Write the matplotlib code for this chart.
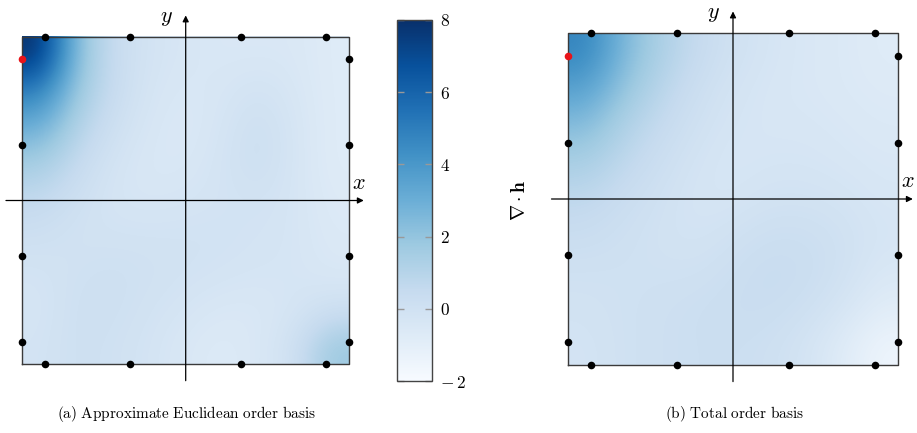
import numpy as np
import matplotlib
matplotlib.use("Agg")
import matplotlib.pyplot as plt
from matplotlib.colors import Normalize

plt.rcParams['mathtext.fontset'] = 'cm'
plt.rcParams['font.family'] = ['DejaVu Serif']

# ---------------- data ----------------
grid_coords = [-1.0, -0.75, -0.5, -0.25, 0.0, 0.25, 0.5, 0.75, 1.0]   # 9x9 sample grid (rows: y=+1 -> -1)

field_euclid = [
    [8.0, 2.2, 0.4, -0.2, -0.4, -0.5, -0.5, -0.5, -0.8],
    [5.0, 1.8, 0.4, -0.3, -0.5, -0.4, -0.1, -0.4, -0.8],
    [3.0, 1.1, 0.1, -0.4, -0.6, -0.3, 0.2, -0.3, -0.8],
    [1.5, 0.5, -0.2, -0.5, -0.5, -0.2, 0.2, -0.3, -0.8],
    [0.6, 0.1, -0.3, -0.4, -0.3, -0.2, -0.1, -0.3, -0.7],
    [0.1, -0.1, -0.1, -0.1, -0.1, -0.1, -0.2, -0.3, -0.6],
    [-0.2, 0.0, 0.1, 0.0, -0.1, -0.2, -0.3, -0.3, -0.5],
    [-0.3, 0.1, 0.1, -0.1, -0.3, -0.5, -0.5, -0.3, 0.1],
    [-0.2, 0.1, 0.0, -0.2, -0.5, -0.7, -0.5, 0.0, 1.8],
]

field_total = [
    [4.8, 2.6, 1.3, 0.5, 0.0, -0.3, -0.5, -0.6, -0.8],
    [3.6, 2.0, 0.9, 0.2, -0.2, -0.4, -0.5, -0.6, -0.7],
    [2.4, 1.2, 0.5, 0.0, -0.3, -0.4, -0.4, -0.5, -0.6],
    [1.4, 0.7, 0.2, -0.2, -0.4, -0.3, -0.3, -0.4, -0.5],
    [0.7, 0.3, 0.0, -0.3, -0.3, -0.1, -0.1, -0.2, -0.4],
    [0.3, 0.1, -0.1, -0.2, 0.0, 0.2, 0.2, 0.0, -0.3],
    [0.0, 0.0, 0.0, 0.0, 0.2, 0.4, 0.3, 0.0, -0.5],
    [-0.1, 0.0, 0.1, 0.2, 0.3, 0.3, 0.1, -0.3, -0.9],
    [-0.2, 0.0, 0.1, 0.2, 0.2, 0.1, -0.2, -0.8, -1.5],
]

# boundary nodes (4-point Gauss positions on each edge)
edge_nodes = [-0.8611363, -0.3399810, 0.3399810, 0.8611363]
highlight_node = (-1.0, 0.8611363)

cbar_ticks = [-2, 0, 2, 4, 6, 8]
cbar_ticklabels = [r'$-\,2$', r'$0$', r'$2$', r'$4$', r'$6$', r'$8$']
cbar_label = r'$\nabla\cdot\mathbf{h}$'
captions = [r'$\mathrm{(a)\ Approximate\ Euclidean\ order\ basis}$',
            r'$\mathrm{(b)\ Total\ order\ basis}$']
vmin, vmax = -2, 8

# ---------------- figure ----------------
W, H = 917, 433
fig = plt.figure(figsize=(W / 100, H / 100), dpi=100)

norm = Normalize(vmin=vmin, vmax=vmax)
cmap = plt.get_cmap('Blues')


def make_panel(cx, cy, sx, sy, field, caption, caption_x):
    xl, xr = -1.13, 1.13
    yb, yt = -1.13, 1.16
    left_px = cx + xl * sx
    right_px = cx + xr * sx
    top_px = cy - yt * sy
    bot_px = cy - yb * sy
    ax = fig.add_axes([left_px / W, 1 - bot_px / H,
                       (right_px - left_px) / W, (bot_px - top_px) / H])
    ax.set_xlim(xl, xr)
    ax.set_ylim(yb, yt)
    ax.axis('off')
    im = ax.imshow(np.array(field), extent=[-1, 1, -1, 1], origin='upper',
                   cmap=cmap, norm=norm, interpolation='bicubic', aspect='auto', zorder=1)
    ax.plot([-1, 1, 1, -1, -1], [-1, -1, 1, 1, -1], color='#3a3a3a', lw=1.0, zorder=2)
    ax.annotate('', xy=(1.09, 0), xytext=(-1.1, 0),
                arrowprops=dict(arrowstyle='-|>', color='black', lw=0.9,
                                mutation_scale=9, shrinkA=0, shrinkB=0), zorder=3)
    ax.annotate('', xy=(0, 1.13), xytext=(0, -1.1),
                arrowprops=dict(arrowstyle='-|>', color='black', lw=0.9,
                                mutation_scale=9, shrinkA=0, shrinkB=0), zorder=3)
    ax.text(1.06, 0.04, r'$x$', fontsize=16, ha='center', va='bottom', zorder=4)
    ax.text(-0.12, 1.12, r'$y$', fontsize=16, ha='center', va='center', zorder=4)
    xs, ys = [], []
    for t in edge_nodes:
        xs += [t, t, 1]
        ys += [1, -1, t]
    for t in edge_nodes:
        if not np.isclose(t, highlight_node[1]):
            xs.append(-1)
            ys.append(t)
    ax.scatter(xs, ys, s=30, color='black', zorder=5, clip_on=False, linewidths=0)
    ax.scatter([highlight_node[0]], [highlight_node[1]], s=30, color='#e8141a',
               zorder=6, clip_on=False, linewidths=0)
    fig.text(caption_x / W, 1 - 414 / H, caption, fontsize=11, ha='center', va='center')
    return im


im = make_panel(185.7, 200.5, 163.4, 163.8, field_euclid, captions[0], 186)
make_panel(733, 199, 165, 166, field_total, captions[1], 734)

# colorbar
cax = fig.add_axes([397 / W, 1 - 381 / H, 35 / W, 361 / H])
cb = fig.colorbar(im, cax=cax, ticks=cbar_ticks)
cb.ax.set_yticklabels(cbar_ticklabels)
cb.outline.set_edgecolor('#444444')
cb.outline.set_linewidth(1.0)
cb.ax.tick_params(direction='in', left=True, right=True, length=5, width=1,
                  color='#999999', labelsize=12.5, pad=6)
for lbl in cb.ax.get_yticklabels():
    lbl.set_horizontalalignment('left')

fig.text(520 / W, 1 - 200 / H, cbar_label, fontsize=14, rotation=90,
         ha='center', va='center')

fig.savefig('out.png', dpi=100)
